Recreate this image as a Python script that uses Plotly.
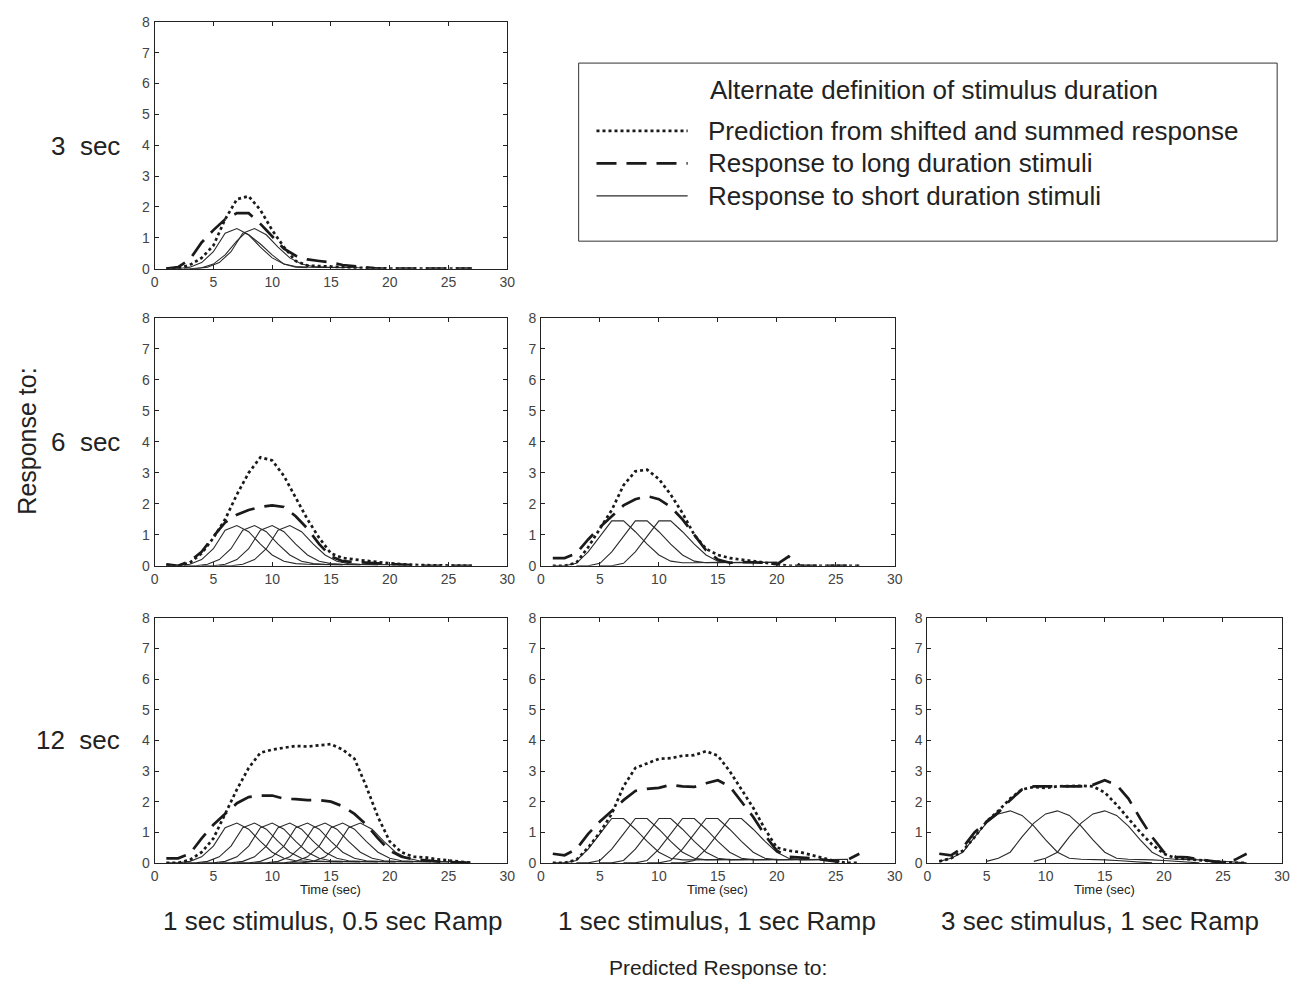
import plotly.graph_objects as go

W, H = 1302, 987

# ---------------- data ----------------
TIME = list(range(1, 28))

# Kernels (response to one short stimulus), relative time from onset
K1_T = list(range(0, 16))
K1_V = [0.0, 0.0, 0.05, 0.2, 0.55, 1.15, 1.3, 1.1, 0.7, 0.35, 0.15, 0.07, 0.05, 0.05, 0.04, 0.03]
K2_T = list(range(0, 16)) + [15]
K2_V = [0.0, 0.0, 0.08, 0.45, 0.95, 1.45, 1.45, 1.1, 0.7, 0.35, 0.15, 0.1, 0.1, 0.1, 0.1, 0.12, 0.0]
K3_T = list(range(0, 19))
K3_V = [0.05, 0.15, 0.35, 0.85, 1.3, 1.6, 1.7, 1.55, 1.2, 0.75, 0.35, 0.15, 0.12, 0.12, 0.1, 0.08, 0.06, 0.03, 0.0]
K_START = 1  # first onset time (sec)

# onsets of shifted short responses for each panel
ONSETS_3S_C1 = [0, 1.5]
ONSETS_6S_C1 = [0, 1.5, 3, 4.5]
ONSETS_6S_C2 = [0, 2, 4]
ONSETS_12S_C1 = [0, 1.5, 3, 4.5, 6, 7.5, 9, 10.5]
ONSETS_12S_C2 = [0, 2, 4, 6, 8, 10]
ONSETS_12S_C3 = [0, 4, 8]

# extra short-duration curve in the 3 sec panel
EXTRA_3S_T = [3, 4, 5, 6, 7, 7.7, 8, 9, 10, 11, 12, 13]
EXTRA_3S_V = [0.0, 0.03, 0.15, 0.45, 0.9, 1.15, 1.1, 0.8, 0.45, 0.15, 0.05, 0.03]

# Prediction from shifted and summed response (dotted)
PRED_3S_C1 = [0, 0.02, 0.12, 0.35, 0.75, 1.6, 2.25, 2.35, 1.9, 1.25, 0.7, 0.25, 0.1, 0.08,
              0.07, 0.05, 0.04, 0.02, 0.01, 0, 0, 0, 0, 0, 0, 0, 0]
PRED_6S_C1 = [0.03, 0.0, 0.1, 0.4, 0.9, 1.5, 2.3, 3.0, 3.5, 3.4, 2.9, 2.2, 1.5, 0.9,
              0.4, 0.25, 0.2, 0.15, 0.12, 0.08, 0.05, 0.03, 0.02, 0.01, 0, 0, 0]
PRED_6S_C2 = [0, 0, 0.1, 0.6, 1.2, 1.8, 2.6, 3.05, 3.1, 2.8, 2.3, 1.7, 1.0, 0.55,
              0.35, 0.25, 0.2, 0.15, 0.1, 0.05, 0, 0, 0, 0, 0, 0, 0]
PRED_12S_C1 = [0, 0, 0.1, 0.35, 0.8, 1.6, 2.4, 3.1, 3.6, 3.7, 3.75, 3.82, 3.8, 3.85,
               3.88, 3.7, 3.4, 2.5, 1.5, 0.7, 0.35, 0.2, 0.18, 0.12, 0.08, 0.04, 0]
PRED_12S_C2 = [0, 0, 0.1, 0.5, 1.0, 1.6, 2.5, 3.1, 3.25, 3.4, 3.42, 3.5, 3.52, 3.65,
               3.5, 3.0, 2.4, 1.8, 1.1, 0.5, 0.4, 0.35, 0.25, 0.15, 0.05, 0, 0]
PRED_12S_C3 = [0.05, 0.15, 0.4, 0.85, 1.35, 1.7, 2.1, 2.4, 2.48, 2.45, 2.5, 2.52, 2.52, 2.5,
               2.3, 1.9, 1.45, 1.0, 0.6, 0.3, 0.15, 0.12, 0.1, 0.05, 0.02, 0, 0]

# Response to long duration stimuli (dashed)
LONG_3S_C1 = [0, 0.05, 0.3, 0.85, 1.25, 1.6, 1.8, 1.8, 1.45, 1.05, 0.65, 0.42, 0.3, 0.25,
              0.2, 0.12, 0.08, 0.04, 0, 0, 0, 0, 0, 0, 0, 0, 0]
LONG_6S_C1 = [0.05, 0.0, 0.15, 0.45, 0.95, 1.4, 1.65, 1.8, 1.9, 1.95, 1.9, 1.6, 1.2, 0.7,
              0.3, 0.15, 0.12, 0.1, 0.08, 0.05, 0.03, 0, 0, 0, 0, 0, 0]
LONG_6S_C2 = [0.25, 0.25, 0.4, 0.85, 1.25, 1.6, 1.95, 2.15, 2.25, 2.15, 1.9, 1.5, 1.0, 0.5,
              0.2, 0.1, 0.12, 0.1, 0.1, 0.05, 0.3, 0, 0, 0, 0, 0, 0]
LONG_12S_C1 = [0.15, 0.15, 0.3, 0.8, 1.25, 1.6, 1.95, 2.15, 2.2, 2.2, 2.1, 2.08, 2.05, 2.05,
               2.0, 1.85, 1.6, 1.25, 0.8, 0.4, 0.2, 0.12, 0.08, 0.05, 0.03, 0.01, 0]
LONG_12S_C2 = [0.3, 0.25, 0.45, 0.95, 1.35, 1.7, 2.05, 2.35, 2.42, 2.45, 2.55, 2.5, 2.48, 2.6,
               2.7, 2.5, 2.0, 1.5, 0.9, 0.4, 0.2, 0.18, 0.15, 0.1, 0.05, 0.1, 0.3]
LONG_12S_C3 = [0.3, 0.25, 0.5, 1.0, 1.35, 1.65, 2.05, 2.4, 2.5, 2.5, 2.52, 2.5, 2.5, 2.55,
               2.7, 2.55, 2.1, 1.45, 0.85, 0.35, 0.2, 0.18, 0.12, 0.05, 0.0, 0.1, 0.3]

X_TICKS = [0, 5, 10, 15, 20, 25, 30]
Y_TICKS = [0, 1, 2, 3, 4, 5, 6, 7, 8]
ROW_LABELS = ["3  sec", "6  sec", "12  sec"]
COL_LABELS = ["1 sec stimulus, 0.5 sec Ramp", "1 sec stimulus, 1 sec Ramp", "3 sec stimulus, 1 sec Ramp"]
LEGEND_TITLE = "Alternate definition of stimulus duration"
LEGEND_ITEMS = ["Prediction from shifted and summed response",
                "Response to long duration stimuli",
                "Response to short duration stimuli"]

# ---------------- layout helpers (screen pixel positions) ----------------
COL_PX = [(152, 508), (542, 899), (932, 1290)]
ROW_PX = [(14, 265), (315, 567), (620, 869)]
FONT = "Liberation Sans, Arial, sans-serif"


def px_x(p):
    return p / W


def px_y(p):
    return 1 - p / H


panels = [
    # (row, col, kernel_t, kernel_v, onsets, pred, long)
    (0, 0, K1_T, K1_V, ONSETS_3S_C1, PRED_3S_C1, LONG_3S_C1),
    (1, 0, K1_T, K1_V, ONSETS_6S_C1, PRED_6S_C1, LONG_6S_C1),
    (1, 1, K2_T, K2_V, ONSETS_6S_C2, PRED_6S_C2, LONG_6S_C2),
    (2, 0, K1_T, K1_V, ONSETS_12S_C1, PRED_12S_C1, LONG_12S_C1),
    (2, 1, K2_T, K2_V, ONSETS_12S_C2, PRED_12S_C2, LONG_12S_C2),
    (2, 2, K3_T, K3_V, ONSETS_12S_C3, PRED_12S_C3, LONG_12S_C3),
]

fig = go.Figure()
layout = dict(width=W, height=H, autosize=False, margin=dict(l=0, r=0, t=0, b=0),
              paper_bgcolor="white", plot_bgcolor="white", showlegend=False,
              font=dict(family=FONT, color="#222"))

SOLID = dict(color="#2a2a2a", width=1.1)
DOT = dict(color="#1a1a1a", width=2.7, dash="dot")
DASH = dict(color="#1a1a1a", width=2.7, dash="20px,10px")

for i, (r, c, kt, kv, ons, pred, lng) in enumerate(panels):
    n = i + 1
    xa = "x" if n == 1 else f"x{n}"
    ya = "y" if n == 1 else f"y{n}"
    for o in ons:
        fig.add_trace(go.Scatter(x=[K_START + o + t for t in kt], y=kv, mode="lines",
                                 line=SOLID, xaxis=xa, yaxis=ya, hoverinfo="skip"))
    if r == 0 and c == 0:
        fig.add_trace(go.Scatter(x=EXTRA_3S_T, y=EXTRA_3S_V, mode="lines",
                                 line=SOLID, xaxis=xa, yaxis=ya, hoverinfo="skip"))
    fig.add_trace(go.Scatter(x=TIME, y=lng, mode="lines", line=DASH, xaxis=xa, yaxis=ya))
    fig.add_trace(go.Scatter(x=TIME, y=pred, mode="lines", line=DOT, xaxis=xa, yaxis=ya))

    x0, x1 = COL_PX[c]
    y0, y1 = ROW_PX[r]
    axis_common = dict(showline=True, linecolor="#222", linewidth=1, mirror="ticks",
                       ticks="inside", ticklen=4, tickcolor="#222", showgrid=False,
                       zeroline=False, tickfont=dict(size=14, color="#444", family=FONT))
    layout["xaxis" if n == 1 else f"xaxis{n}"] = dict(
        domain=[px_x(x0), px_x(x1)], range=[0, 30], tickvals=X_TICKS,
        anchor=ya, ticklabelstandoff=0, **axis_common)
    layout["yaxis" if n == 1 else f"yaxis{n}"] = dict(
        domain=[px_y(y1), px_y(y0)], range=[0, 8], tickvals=Y_TICKS,
        anchor=xa, ticklabelstandoff=1, **axis_common)

fig.update_layout(**layout)

ann = []
# row labels
for lab, cy in zip(ROW_LABELS, [140, 441, 744]):
    ann.append(dict(text=lab, x=px_x(119), y=px_y(cy), xanchor="right", font=dict(size=26)))
ann.append(dict(text="Response to:", x=px_x(23), y=px_y(440), textangle=-90, font=dict(size=25)))
# column labels
for lab, cx in zip(COL_LABELS, [332, 720, 1106]):
    ann.append(dict(text=lab, x=px_x(cx), y=px_y(928), font=dict(size=26)))
for (x0, x1) in COL_PX:
    ann.append(dict(text="Time (sec)", x=px_x((x0 + x1) / 2), y=px_y(896), font=dict(size=13)))
ann.append(dict(text="Predicted Response to:", x=px_x(721), y=px_y(975), font=dict(size=21)))
# legend texts
ann.append(dict(text=LEGEND_TITLE, x=px_x(939), y=px_y(83), font=dict(size=26)))
for lab, cy in zip(LEGEND_ITEMS, [125, 158, 191]):
    ann.append(dict(text=lab, x=px_x(709), y=px_y(cy), xanchor="left", font=dict(size=26)))
for a in ann:
    a.setdefault("xanchor", "center")
    a.update(xref="paper", yref="paper", yanchor="middle", showarrow=False)
    a["font"].setdefault("family", FONT)
    a["font"].setdefault("color", "#222")
fig.update_layout(annotations=ann)

shapes = [dict(type="rect", xref="paper", yref="paper", x0=px_x(580), x1=px_x(1285),
               y0=px_y(237), y1=px_y(56), line=dict(color="#333", width=1))]
for style, cy in zip([DOT, DASH, SOLID], [125, 158, 191]):
    shapes.append(dict(type="line", xref="paper", yref="paper", x0=px_x(598), x1=px_x(690),
                       y0=px_y(cy), y1=px_y(cy), line=style))
fig.update_layout(shapes=shapes)

fig.write_html("out.html", config={"displayModeBar": False},
               post_script="document.body.style.margin='0';document.body.style.overflow='hidden';")
